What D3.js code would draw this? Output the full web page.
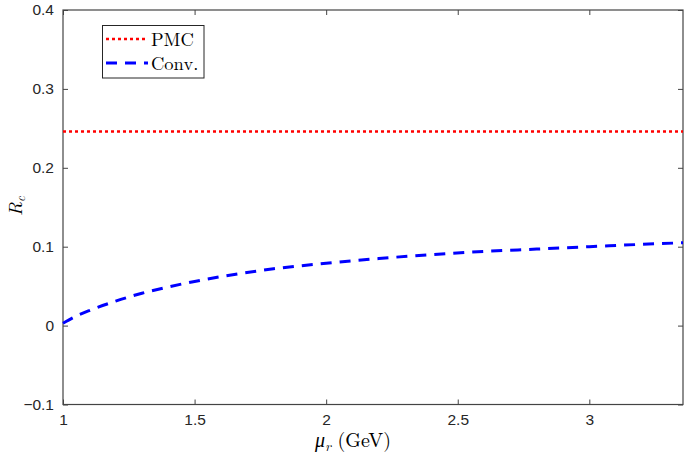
<!DOCTYPE html>
<html><head><meta charset="utf-8">
<script src="https://cdn.jsdelivr.net/npm/d3@7"></script>
<style>body{margin:0;background:#fff}svg{display:block}</style>
</head><body><svg id="c" width="685" height="455"></svg>
<script>
const muR = [1.0, 1.05, 1.1, 1.2, 1.3, 1.4, 1.5, 1.6, 1.8, 2.0, 2.2, 2.4, 2.6, 2.8, 3.0, 3.2, 3.356];
const convVals = [0.003, 0.012, 0.019, 0.031, 0.041, 0.049, 0.056, 0.062, 0.072, 0.079, 0.085, 0.090, 0.094, 0.097, 0.100, 0.103, 0.105];
const pmcVals = muR.map(() => 0.246);
const xTicks = [1, 1.5, 2, 2.5, 3];
const yTicks = [-0.1, 0, 0.1, 0.2, 0.3, 0.4];
const seriesNames = ["PMC", "Conv."];

const svg = d3.select("#c");
const L = 63, R = 683, T = 10, B = 404.5;
const x = d3.scaleLinear().domain([1, 3.356]).range([L, R]);
const y = d3.scaleLinear().domain([-0.1, 0.4]).range([B, T]);
const axCol = "#444";

function styleAxis(g){
  g.select(".domain").remove();
  g.selectAll(".tick line").attr("stroke", axCol).attr("stroke-width", 1);
  g.selectAll(".tick text").attr("fill", "#262626").attr("font-family", "Liberation Sans, Arial, sans-serif").attr("font-size", 15.5);
}
svg.append("g").attr("transform", `translate(0,${B})`)
  .call(d3.axisBottom(x).tickValues(xTicks).tickSize(-5).tickPadding(9).tickFormat(d3.format("")))
  .call(styleAxis);
svg.append("g").attr("transform", `translate(0,${T})`)
  .call(d3.axisTop(x).tickValues(xTicks).tickSize(-5).tickFormat(""))
  .call(styleAxis);
svg.append("g").attr("transform", `translate(${L},0)`)
  .call(d3.axisLeft(y).tickValues(yTicks).tickSize(-5).tickPadding(9).tickFormat(d3.format("")))
  .call(styleAxis);
svg.append("g").attr("transform", `translate(${R},0)`)
  .call(d3.axisRight(y).tickValues(yTicks).tickSize(-5).tickFormat(""))
  .call(styleAxis);
svg.append("rect").attr("x", L).attr("y", T).attr("width", R - L).attr("height", B - T)
  .attr("fill", "none").attr("stroke", axCol).attr("stroke-width", 1.2);

const line = d3.line().x(d => x(d[0])).y(d => y(d[1]));
svg.append("path").datum(muR.map((m, i) => [m, pmcVals[i]]))
  .attr("d", line).attr("fill", "none").attr("stroke", "#ff0000").attr("stroke-width", 2.6).attr("stroke-dasharray", "3,3");
svg.append("path").datum(muR.map((m, i) => [m, convVals[i]]))
  .attr("d", d3.line().curve(d3.curveMonotoneX).x(d => x(d[0])).y(d => y(d[1])))
  .attr("fill", "none").attr("stroke", "#0000ff").attr("stroke-width", 3).attr("stroke-dasharray", "11,8");

const serif = "Latin Modern Roman, CMU Serif, Liberation Serif, Times New Roman, serif";
const xl = svg.append("text").attr("x", 353).attr("y", 447).attr("text-anchor", "middle")
  .attr("font-family", serif).attr("font-size", 20).attr("fill", "#000");
xl.append("tspan").attr("font-style", "italic").text("μ");
xl.append("tspan").attr("font-style", "italic").attr("font-size", 14).attr("dy", 4).text("r");
xl.append("tspan").attr("dy", -4).text("  (GeV)");

const yl = svg.append("text").attr("transform", "translate(22,206) rotate(-90)").attr("text-anchor", "middle")
  .attr("font-family", serif).attr("font-size", 19).attr("fill", "#000");
yl.append("tspan").attr("font-style", "italic").text("R");
yl.append("tspan").attr("font-style", "italic").attr("font-size", 13).attr("dy", 3).text("c");

const lg = svg.append("g");
lg.append("rect").attr("x", 102.5).attr("y", 25.5).attr("width", 101.5).attr("height", 52.5)
  .attr("fill", "#fff").attr("stroke", "#262626").attr("stroke-width", 1);
const legendStyles = [{c: "#ff0000", w: 2.6, d: "3,3"}, {c: "#0000ff", w: 3, d: "11,8"}];
seriesNames.forEach((n, i) => {
  const yy = 39 + i * 24;
  lg.append("line").attr("x1", 106).attr("x2", 148).attr("y1", yy).attr("y2", yy)
    .attr("stroke", legendStyles[i].c).attr("stroke-width", legendStyles[i].w).attr("stroke-dasharray", legendStyles[i].d);
  lg.append("text").attr("x", 151).attr("y", yy + 6.5).attr("font-family", serif).attr("font-size", 18.5)
    .attr("fill", "#000").text(n);
});
</script></body></html>
